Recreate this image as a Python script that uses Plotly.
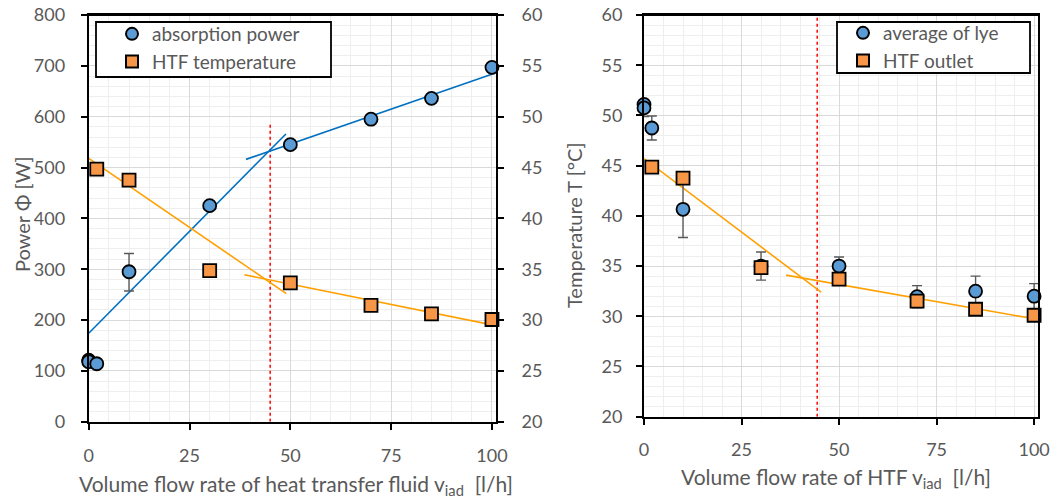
import plotly.graph_objects as go

W, H = 1058, 501
def px(x): return x / W
def py(y): return 1 - y / H

# ---------------- data: left chart ----------------
flow_power = [0, 0, 2, 10, 30, 50, 70, 85, 100]
absorption_power = [121, 118, 114, 295, 425, 545, 595, 636, 697]
absorption_err_plus = [0, 0, 0, 36, 0, 0, 0, 0, 0]
absorption_err_minus = [0, 0, 0, 38, 0, 0, 0, 0, 0]

flow_htf = [2, 10, 30, 50, 70, 85, 100]
htf_temperature = [44.85, 43.75, 34.85, 33.65, 31.45, 30.6, 30.05]

trend_power_1_x = [0, 48.9]
trend_power_1_y = [174, 566]
trend_power_2_x = [39, 100.5]
trend_power_2_y = [516, 685]
trend_htf_1_x = [0, 49]
trend_htf_1_y = [45.9, 32.6]
trend_htf_2_x = [38.6, 101]
trend_htf_2_y = [34.45, 29.45]
marker_left_x = [45, 45]
marker_left_y = [0, 587]

# ---------------- data: right chart ----------------
flow_lye = [0, 0, 2, 10, 30, 50, 70, 85, 100]
lye_average = [51.1, 50.75, 48.75, 40.65, 35.0, 35.0, 31.95, 32.5, 32.0]
lye_err = [0.0, 0.85, 1.2, 2.8, 1.4, 0.9, 1.1, 1.5, 1.25]

flow_outlet = [2, 10, 30, 50, 70, 85, 100]
htf_outlet = [44.85, 43.75, 34.85, 33.7, 31.5, 30.7, 30.1]

trend_out_1_x = [0, 45.4]
trend_out_1_y = [45.7, 32.4]
trend_out_2_x = [36.4, 100]
trend_out_2_y = [34.1, 29.75]
marker_right_x = [44.4, 44.4]
marker_right_y = [20, 60]

x_ticks = [0, 25, 50, 75, 100]
power_ticks = list(range(0, 801, 100))
temp_ticks = list(range(20, 61, 5))

# ---------------- style ----------------
FONT = "Lato"
GREY = "#595959"
BLUE_FILL = "#5B9BD5"
ORANGE_FILL = "#F79646"
BLUE_LINE = "#0070C0"
ORANGE_LINE = "#FFA000"
RED = "#FF0000"
GRID = "#d9d9d9"
MINOR = "#eeeeee"

fig = go.Figure()

# left chart helper lines
fig.add_trace(go.Scatter(x=marker_left_x, y=marker_left_y, mode="lines",
                         line=dict(color=RED, width=1.5, dash="dot"),
                         xaxis="x", yaxis="y", showlegend=False))
fig.add_trace(go.Scatter(x=trend_power_1_x, y=trend_power_1_y, mode="lines",
                         line=dict(color=BLUE_LINE, width=1.6),
                         xaxis="x", yaxis="y", showlegend=False))
fig.add_trace(go.Scatter(x=trend_power_2_x, y=trend_power_2_y, mode="lines",
                         line=dict(color=BLUE_LINE, width=1.6),
                         xaxis="x", yaxis="y", showlegend=False))
fig.add_trace(go.Scatter(x=trend_htf_1_x, y=trend_htf_1_y, mode="lines",
                         line=dict(color=ORANGE_LINE, width=1.6),
                         xaxis="x", yaxis="y2", showlegend=False))
fig.add_trace(go.Scatter(x=trend_htf_2_x, y=trend_htf_2_y, mode="lines",
                         line=dict(color=ORANGE_LINE, width=1.6),
                         xaxis="x", yaxis="y2", showlegend=False))

fig.add_trace(go.Scatter(
    x=flow_power, y=absorption_power, mode="markers", name="absorption power",
    marker=dict(symbol="circle", size=13, color=BLUE_FILL,
                line=dict(color="black", width=1.8)),
    error_y=dict(type="data", array=absorption_err_plus,
                 arrayminus=absorption_err_minus, color=GREY,
                 thickness=1.4, width=5),
    xaxis="x", yaxis="y", cliponaxis=False, legend="legend"))
fig.add_trace(go.Scatter(
    x=flow_htf, y=htf_temperature, mode="markers", name="HTF temperature",
    marker=dict(symbol="square", size=13, color=ORANGE_FILL,
                line=dict(color="black", width=1.8)),
    xaxis="x", yaxis="y2", cliponaxis=False, legend="legend"))

# right chart
fig.add_trace(go.Scatter(x=marker_right_x, y=marker_right_y, mode="lines",
                         line=dict(color=RED, width=1.5, dash="dot"),
                         xaxis="x2", yaxis="y3", showlegend=False))
fig.add_trace(go.Scatter(x=trend_out_1_x, y=trend_out_1_y, mode="lines",
                         line=dict(color=ORANGE_LINE, width=1.6),
                         xaxis="x2", yaxis="y3", showlegend=False))
fig.add_trace(go.Scatter(x=trend_out_2_x, y=trend_out_2_y, mode="lines",
                         line=dict(color=ORANGE_LINE, width=1.6),
                         xaxis="x2", yaxis="y3", showlegend=False))
fig.add_trace(go.Scatter(
    x=flow_lye, y=lye_average, mode="markers", name="average of lye",
    marker=dict(symbol="circle", size=13, color=BLUE_FILL,
                line=dict(color="black", width=1.8)),
    error_y=dict(type="data", array=lye_err, color=GREY, thickness=1.4, width=5),
    xaxis="x2", yaxis="y3", cliponaxis=False, legend="legend2"))
fig.add_trace(go.Scatter(
    x=flow_outlet, y=htf_outlet, mode="markers", name="HTF outlet",
    marker=dict(symbol="square", size=13, color=ORANGE_FILL,
                line=dict(color="black", width=1.8)),
    xaxis="x2", yaxis="y3", cliponaxis=False, legend="legend2"))

tickfont = dict(family=FONT, size=18, color=GREY)

def xaxis(domain, standoff):
    return dict(domain=domain, range=[0, 101], tickvals=x_ticks, tickfont=tickfont,
                showline=True, linecolor="black", linewidth=2, mirror=True,
                ticks="outside", ticklen=6, tickwidth=1.5, tickcolor="black",
                ticklabelstandoff=standoff, automargin=False,
                ticklabeloverflow="allow",
                showgrid=True, gridcolor=GRID, gridwidth=1,
                minor=dict(dtick=5, tick0=0, showgrid=True, gridcolor=MINOR, ticks=""),
                zeroline=False, fixedrange=True)

legend_common = dict(xanchor="left", yanchor="top",
                     bgcolor="rgba(0,0,0,0)", borderwidth=0,
                     font=dict(family=FONT, size=19, color=GREY),
                     itemsizing="constant", tracegroupgap=0)

fig.update_layout(
    width=W, height=H,
    margin=dict(l=0, r=0, t=0, b=0, pad=0),
    paper_bgcolor="white", plot_bgcolor="white",
    font=dict(family=FONT, color=GREY),
    xaxis=dict(xaxis([px(88.7), px(496)], 11), anchor="y"),
    yaxis=dict(domain=[py(421.7), py(15)], range=[0, 800], tickvals=power_ticks,
               tickfont=tickfont, anchor="x", automargin=False,
               ticklabeloverflow="allow",
               showline=True, linecolor="black", linewidth=2, mirror=True,
               ticks="outside", ticklen=6, tickwidth=1.5, tickcolor="black",
               ticklabelstandoff=12,
               showgrid=True, gridcolor=GRID, gridwidth=1,
               minor=dict(dtick=20, tick0=0, showgrid=True, gridcolor=MINOR, ticks=""),
               zeroline=False),
    yaxis2=dict(range=[20, 60], tickvals=temp_ticks, tickfont=tickfont,
                overlaying="y", side="right", anchor="x", automargin=False,
                ticklabeloverflow="allow",
                showline=True, linecolor="black", linewidth=2,
                ticks="outside", ticklen=6, tickwidth=1.5, tickcolor="black",
                ticklabelstandoff=14, showgrid=False, zeroline=False),
    xaxis2=dict(xaxis([px(644), px(1038)], 10), anchor="y3"),
    yaxis3=dict(domain=[py(416.7), py(15)], range=[20, 60], tickvals=temp_ticks,
                tickfont=tickfont, anchor="x2", automargin=False,
                ticklabeloverflow="allow",
                showline=True, linecolor="black", linewidth=2, mirror=True,
                ticks="outside", ticklen=6, tickwidth=1.5, tickcolor="black",
                ticklabelstandoff=10,
                showgrid=True, gridcolor=GRID, gridwidth=1,
                minor=dict(dtick=1, tick0=20, showgrid=True, gridcolor=MINOR, ticks=""),
                zeroline=False),
    legend=dict(legend_common, x=px(112), y=py(15)),
    legend2=dict(legend_common, x=px(843), y=py(14)),
    showlegend=True,
)

# top frame edge of both plot areas
for xr, yr in [("x domain", "y domain"), ("x2 domain", "y3 domain")]:
    fig.add_shape(type="line", xref=xr, yref=yr, x0=0, x1=1, y0=1, y1=1,
                  line=dict(color="black", width=2), layer="above")

# legend frames
for (x0, y0, x1, y1) in [(96, 22, 331, 77), (837, 22, 1030, 73)]:
    fig.add_shape(type="rect", xref="paper", yref="paper",
                  x0=px(x0), x1=px(x1), y0=py(y1), y1=py(y0),
                  line=dict(color="black", width=1.8), fillcolor="white", layer="above")

title_font = dict(family=FONT, size=20, color=GREY)
xtitle_font = dict(family=FONT, size=21, color=GREY)
fig.add_annotation(text="Power Φ [W]", x=px(22), y=py(214), xref="paper", yref="paper",
                   xanchor="center", yanchor="middle",
                   textangle=-90, showarrow=False, font=title_font)
fig.add_annotation(text="Temperature T [°C]", x=px(574), y=py(225), xref="paper", yref="paper",
                   xanchor="center", yanchor="middle",
                   textangle=-90, showarrow=False, font=title_font)
fig.add_annotation(text="Volume flow rate of heat transfer fluid v<sub>iad</sub>  [l/h]",
                   x=px(296), y=py(485), xref="paper", yref="paper",
                   xanchor="center", yanchor="middle",
                   showarrow=False, font=xtitle_font)
fig.add_annotation(text="Volume flow rate of HTF v<sub>iad</sub>  [l/h]",
                   x=px(836), y=py(478), xref="paper", yref="paper",
                   xanchor="center", yanchor="middle",
                   showarrow=False, font=xtitle_font)

# the figure fills the window exactly: drop the page's default body margin
fig.write_html("out.html", config={"displayModeBar": False},
               post_script="document.body.style.margin='0';")
